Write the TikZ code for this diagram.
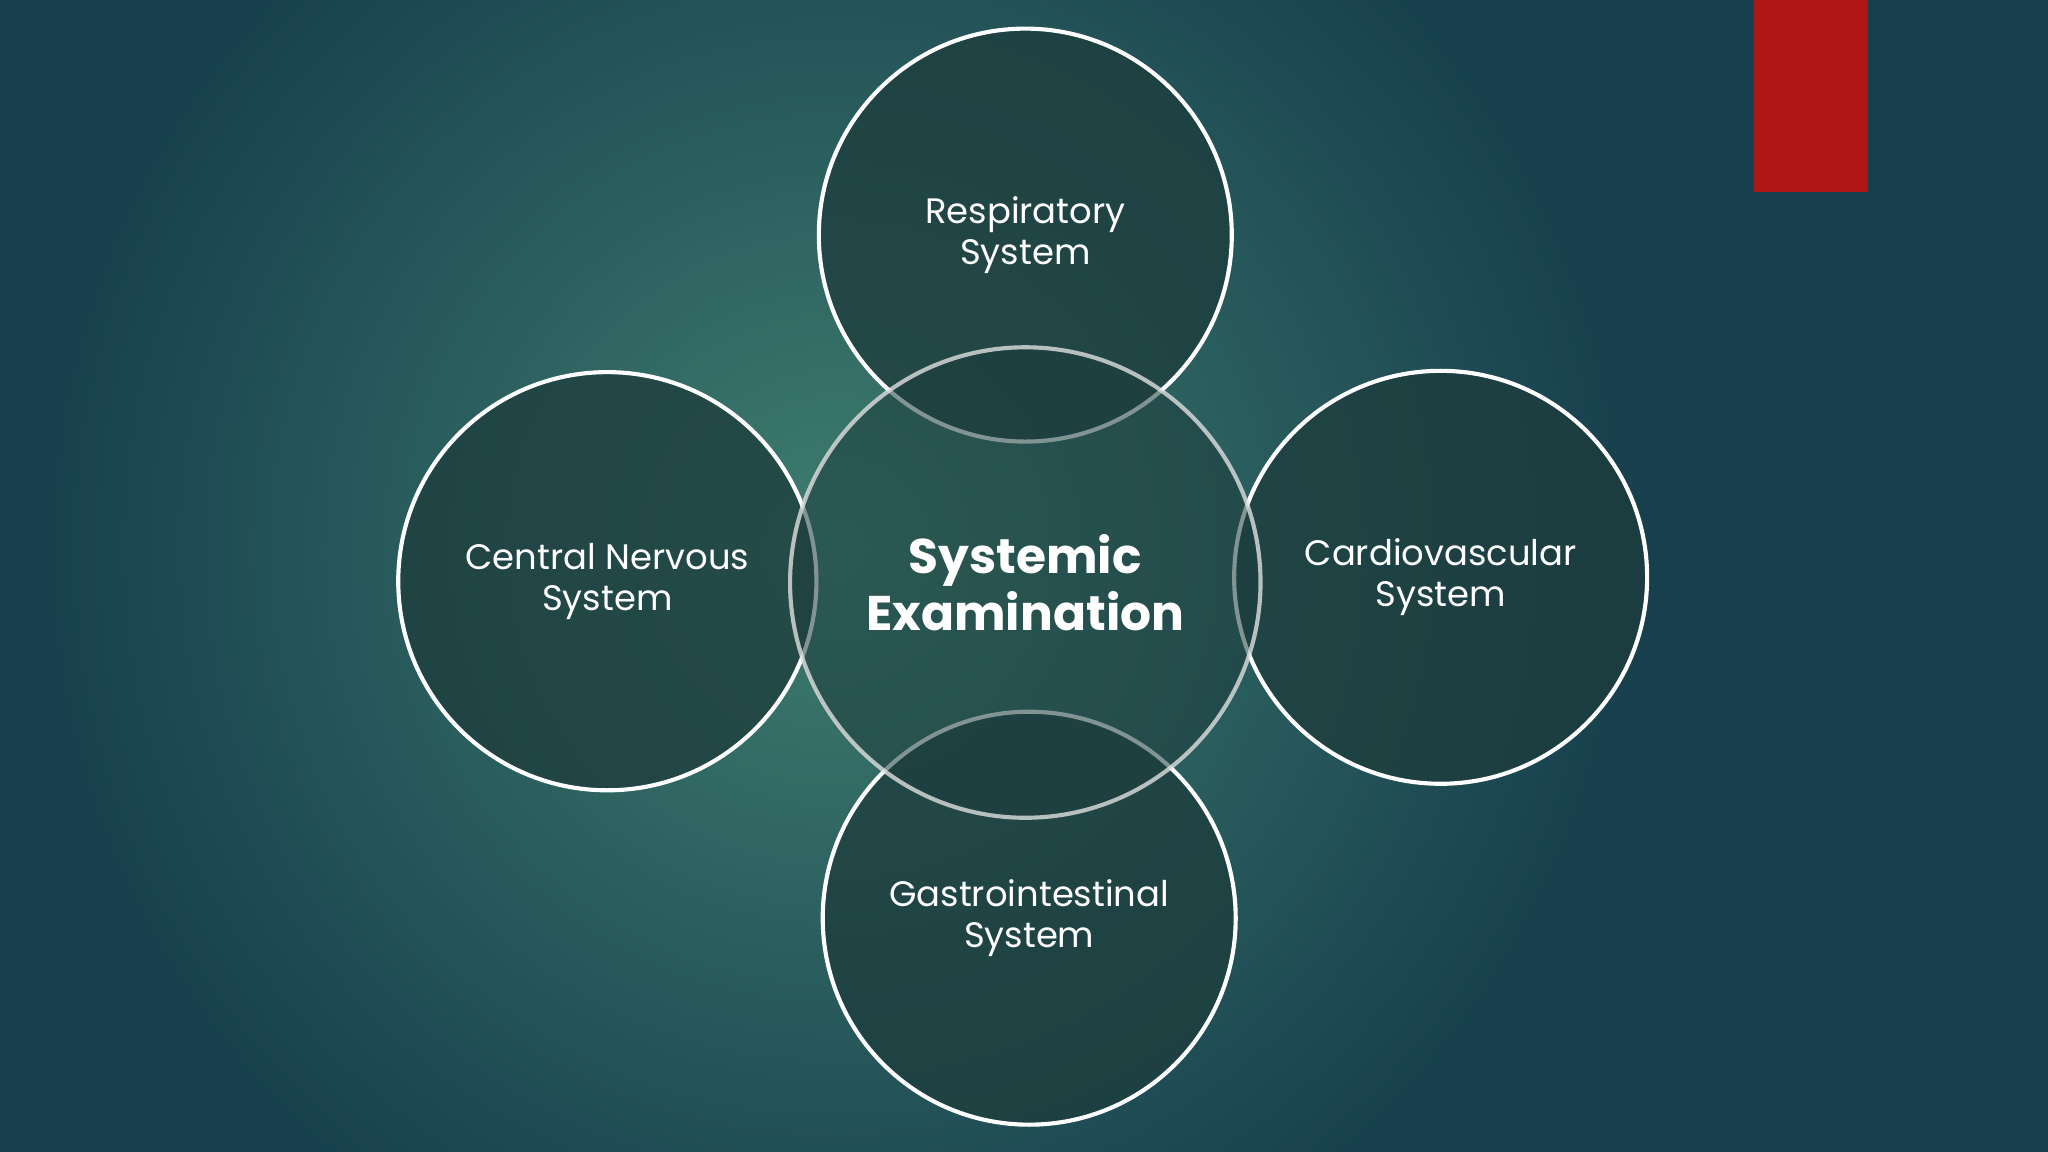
\documentclass[tikz,border=0pt]{standalone}
\usepackage{fontspec}
\setmainfont{Poppins}
\definecolor{bgdark}{HTML}{173F4D}
\definecolor{bglight}{HTML}{3E7D6F}
\definecolor{circfill}{HTML}{1D3C3C}
\definecolor{redbox}{HTML}{B01616}
\begin{document}
\begin{tikzpicture}[x=0.01cm,y=-0.01cm,
  sys/.style={circle,draw=white,line width=0.9pt,fill=circfill,fill opacity=0.75,text opacity=1,text=white,align=center,font=\fontsize{7.7}{9}\selectfont,inner sep=0pt},
  hub/.style={circle,draw=white!75!gray,draw opacity=0.8,line width=0.9pt,fill=circfill,fill opacity=0.55,text opacity=1,text=white,align=center,font=\bfseries\fontsize{10.6}{12.5}\selectfont,inner sep=0pt}]
\useasboundingbox (0,0) rectangle (1568,882);
\fill[bgdark] (0,0) rectangle (1568,882);
\shade[inner color=bglight,outer color=bgdark] (640,420) circle (620);
\fill[redbox] (1343,0) rectangle (1430,147);
\node[sys,minimum size=3.16cm] (t) at (785,180) {Respiratory\\System};
\node[sys,minimum size=3.2cm] (l) at (465,445) {Central Nervous\\System};
\node[sys,minimum size=3.16cm] (r) at (1103,442) {Cardiovascular\\System};
\node[sys,minimum size=3.16cm] (b) at (788,703) {Gastrointestinal\\System};
\node[hub,minimum size=3.6cm] (c) at (785,446) {Systemic\\Examination};
\end{tikzpicture}
\end{document}
